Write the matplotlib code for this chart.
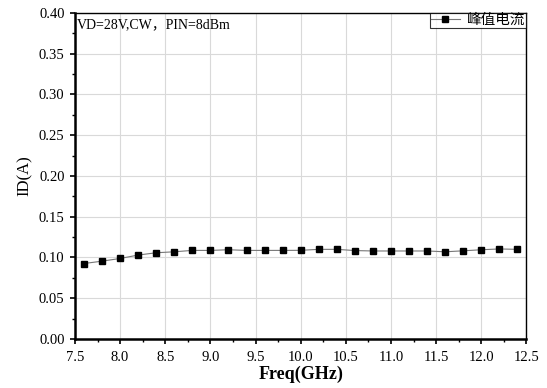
import numpy as np
import matplotlib.pyplot as plt
from matplotlib.ticker import MultipleLocator

plt.rcParams['font.family'] = ['Liberation Serif', 'Noto Sans CJK SC']

# Data
freq = [7.6, 7.8, 8.0, 8.2, 8.4, 8.6, 8.8, 9.0, 9.2, 9.4, 9.6, 9.8, 10.0,
        10.2, 10.4, 10.6, 10.8, 11.0, 11.2, 11.4, 11.6, 11.8, 12.0, 12.2, 12.4]
peak_current = [0.0926, 0.0955, 0.0988, 0.1030, 0.1058, 0.1070, 0.1087, 0.1087,
                0.1095, 0.1087, 0.1087, 0.1087, 0.1088, 0.1100, 0.1100, 0.1085,
                0.1080, 0.1080, 0.1080, 0.1080, 0.1070, 0.1082, 0.1095, 0.1105,
                0.1100]
series_label = '峰值电流'
note = 'VD=28V,CW，PIN=8dBm'

fig = plt.figure(figsize=(5.47, 3.88), dpi=100)
ax = fig.add_axes([0.137, 0.1263, 0.8254, 0.8402])

ax.plot(freq, peak_current, color='#777777', lw=0.8, marker='s',
        markersize=4.8, markerfacecolor='black', markeredgecolor='black',
        label=series_label)

ax.set_xlim(7.5, 12.5)
ax.set_ylim(0, 0.4)
ax.xaxis.set_major_locator(MultipleLocator(0.5))
ax.xaxis.set_minor_locator(MultipleLocator(0.25))
ax.yaxis.set_major_locator(MultipleLocator(0.05))
ax.yaxis.set_minor_locator(MultipleLocator(0.025))
ax.xaxis.set_major_formatter(lambda v, p: f'{v:.1f}')
ax.yaxis.set_major_formatter(lambda v, p: f'{v:.2f}')

ax.grid(True, which='major', color='#d9d9d9', lw=0.8)
ax.set_axisbelow(True)
ax.tick_params(which='both', direction='out', top=False, right=False,
               labelsize=10.5, color='black')
ax.tick_params(which='major', length=3.5, width=1.2, pad=4)
ax.tick_params(axis='x', which='major', pad=5)
ax.tick_params(which='minor', length=2, width=1.0)
for s in ['left', 'bottom']:
    ax.spines[s].set_linewidth(1.8)
for s in ['top', 'right']:
    ax.spines[s].set_linewidth(1.0)

ax.set_xlabel('Freq(GHz)', fontsize=13, fontweight='bold', labelpad=1)
ax.set_ylabel('ID(A)', fontsize=12, labelpad=4)

ax.text(0.004, 0.985, note, transform=ax.transAxes, ha='left', va='top',
        fontsize=10)

leg = ax.legend(loc='upper right', fontsize=10.5, frameon=True, fancybox=False,
                borderpad=0.05, handlelength=2.0, handletextpad=0.5,
                borderaxespad=0.0, markerscale=1.0)
leg.get_frame().set_edgecolor('black')
leg.get_frame().set_linewidth(0.8)

fig.savefig('out.png', dpi=100)
